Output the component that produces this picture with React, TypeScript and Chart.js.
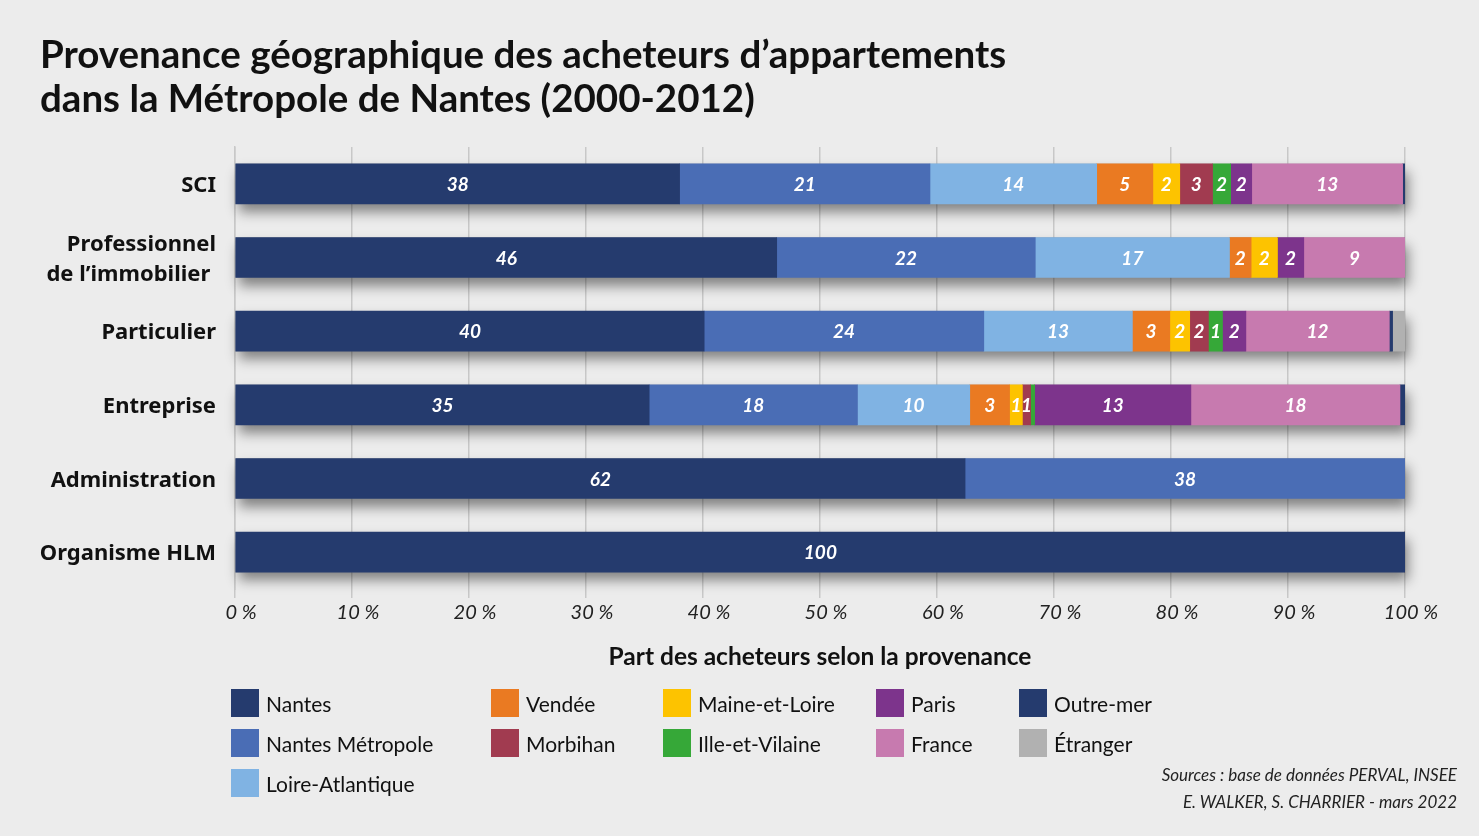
import React, { useEffect, useRef } from "react";
import { Chart, registerables } from "chart.js";

Chart.register(...registerables);

// ---- Data ----
const categories: (string | string[])[] = [
  "SCI",
  ["Professionnel", "de l’immobilier "],
  "Particulier",
  "Entreprise",
  "Administration",
  "Organisme HLM",
];

const seriesNames = [
  "Nantes",
  "Nantes Métropole",
  "Loire-Atlantique",
  "Vendée",
  "Maine-et-Loire",
  "Morbihan",
  "Ille-et-Vilaine",
  "Paris",
  "France",
  "Outre-mer",
  "Étranger",
];

const nantes = [38.0, 46.3, 40.1, 35.4, 62.4, 100];
const nantesMetropole = [21.4, 22.1, 23.9, 17.8, 37.6, 0];
const loireAtlantique = [14.25, 16.6, 12.7, 9.6, 0, 0];
const vendee = [4.8, 1.85, 3.2, 3.4, 0, 0];
const maineEtLoire = [2.3, 2.25, 1.7, 1.1, 0, 0];
const morbihan = [2.8, 0, 1.6, 0.7, 0, 0];
const illeEtVilaine = [1.55, 0, 1.2, 0.35, 0, 0];
const paris = [1.8, 2.25, 2.0, 13.35, 0, 0];
const france = [12.9, 8.65, 12.26, 17.87, 0, 0];
const outreMer = [0.17, 0, 0.28, 0.43, 0, 0];
const etranger = [0, 0, 1.06, 0, 0, 0];

const seriesValues = [
  nantes,
  nantesMetropole,
  loireAtlantique,
  vendee,
  maineEtLoire,
  morbihan,
  illeEtVilaine,
  paris,
  france,
  outreMer,
  etranger,
];

const seriesColors = [
  "#253b6e",
  "#4a6db5",
  "#80b3e3",
  "#ea7a22",
  "#fdc300",
  "#a13b50",
  "#36a838",
  "#7d348c",
  "#c77aaf",
  "#253b6e",
  "#b1b1b1",
];

// Series whose segments carry no value label
const unlabeledSeries = ["Outre-mer", "Étranger"];

const xTickValues = [0, 10, 20, 30, 40, 50, 60, 70, 80, 90, 100];

// legend arrangement (column-major as in the reference)
const legendColumns: string[][] = [
  ["Nantes", "Nantes Métropole", "Loire-Atlantique"],
  ["Vendée", "Morbihan"],
  ["Maine-et-Loire", "Ille-et-Vilaine"],
  ["Paris", "France"],
  ["Outre-mer", "Étranger"],
];
const legendColumnX = [231, 491, 663, 876, 1019];
const legendRowY = [689, 729, 769];

const titleLines = [
  "Provenance géographique des acheteurs d’appartements",
  "dans la Métropole de Nantes (2000-2012)",
];
const axisTitle = "Part des acheteurs selon la provenance";
const sourceLines = [
  "Sources : base de données PERVAL, INSEE",
  "E. WALKER, S. CHARRIER - mars 2022",
];

const FONT = "Lato, 'Noto Sans', sans-serif";
const LABEL_FONT = "'Noto Sans', Lato, sans-serif";

const shadowPlugin = {
  id: "barShadow",
  beforeDatasetsDraw(chart: any) {
    const ctx = chart.ctx;
    const metas = chart.data.datasets.map((_: any, i: number) => chart.getDatasetMeta(i));
    const n = chart.data.labels.length;
    for (let i = 0; i < n; i++) {
      let left = Infinity;
      let right = -Infinity;
      let top = 0;
      let h = 0;
      metas.forEach((m: any) => {
        const el = m.data[i];
        if (!el) return;
        const p = el.getProps(["x", "y", "base", "height"], true);
        left = Math.min(left, p.base, p.x);
        right = Math.max(right, p.base, p.x);
        top = p.y - p.height / 2;
        h = p.height;
      });
      ctx.save();
      ctx.shadowColor = "rgba(0,0,0,0.45)";
      ctx.shadowBlur = 12;
      ctx.shadowOffsetX = 3;
      ctx.shadowOffsetY = 8;
      ctx.fillStyle = "#888";
      ctx.fillRect(left, top, right - left, h);
      ctx.restore();
    }
  },
};

const valueLabelPlugin = {
  id: "valueLabels",
  afterDatasetsDraw(chart: any) {
    const ctx = chart.ctx;
    ctx.save();
    ctx.font = `italic 700 19px ${FONT}`;
    ctx.fillStyle = "#ffffff";
    ctx.textAlign = "center";
    ctx.textBaseline = "middle";
    chart.data.datasets.forEach((ds: any, d: number) => {
      if (unlabeledSeries.includes(ds.label)) return;
      const meta = chart.getDatasetMeta(d);
      meta.data.forEach((el: any, i: number) => {
        const v = ds.data[i];
        const r = Math.round(v);
        if (r < 1) return;
        const c = el.getCenterPoint();
        ctx.fillText(String(r), c.x, c.y + 1);
      });
    });
    ctx.restore();
  },
};

function ChartCanvas() {
  const ref = useRef<HTMLCanvasElement | null>(null);
  useEffect(() => {
    if (!ref.current) return;
    const chart = new Chart(ref.current, {
      type: "bar",
      data: {
        labels: categories as any,
        datasets: seriesNames.map((name, i) => ({
          label: name,
          data: seriesValues[i],
          backgroundColor: seriesColors[i],
          borderWidth: 0,
          borderSkipped: false,
          barThickness: 40,
        })),
      },
      options: {
        indexAxis: "y",
        responsive: false,
        animation: false,
        layout: { padding: { left: 0, right: 74, top: 147, bottom: 207 } },
        plugins: {
          legend: { display: false },
          tooltip: { enabled: false },
          title: { display: false },
        },
        scales: {
          x: {
            stacked: true,
            min: 0,
            max: 100,
            afterBuildTicks: (scale: any) => {
              scale.ticks = xTickValues.map((v) => ({ value: v }));
            },
            afterFit: (scale: any) => {
              scale.height = 40;
            },
            ticks: {
              callback: (v: any) => `${v} %`,
              font: { family: FONT, size: 20, style: "italic", weight: 400 },
              color: "#222",
              padding: 3,
              labelOffset: 6,
              maxRotation: 0,
            },
            grid: {
              color: "#c8c8c8",
              lineWidth: 1.5,
              tickLength: 9,
              drawTicks: true,
            },
            border: { display: false },
          },
          y: {
            stacked: true,
            afterFit: (scale: any) => {
              scale.width = 235;
            },
            ticks: {
              font: { family: LABEL_FONT, size: 22, weight: 700, lineHeight: 1.36 },
              color: "#111",
              padding: 11,
              labelOffset: 2,
            },
            grid: { display: false },
            border: { display: true, color: "#c8c8c8", width: 1.5 },
          },
        },
      },
      plugins: [shadowPlugin, valueLabelPlugin],
    } as any);
    return () => chart.destroy();
  }, []);
  return (
    <canvas
      ref={ref}
      width={1479}
      height={836}
      style={{ position: "absolute", left: 0, top: 0, width: 1479, height: 836 }}
    />
  );
}

export default function App() {
  return (
    <div
      style={{
        position: "absolute",
        left: 0,
        top: 0,
        width: 1479,
        height: 836,
        background: "#ececec",
        overflow: "hidden",
        fontFamily: FONT,
        color: "#111",
      }}
    >
      <ChartCanvas />
      <div
        style={{
          position: "absolute",
          left: 40,
          top: 31,
          fontSize: 38.5,
          fontWeight: 700,
          lineHeight: "44px",
          color: "#111",
          whiteSpace: "nowrap",
        }}
      >
        {titleLines.map((l, i) => (
          <div key={i}>{l}</div>
        ))}
      </div>
      <div
        style={{
          position: "absolute",
          left: 235,
          width: 1170,
          top: 641,
          textAlign: "center",
          fontSize: 24.5,
          fontWeight: 700,
          lineHeight: "30px",
          color: "#111",
        }}
      >
        {axisTitle}
      </div>
      {legendColumns.map((col, ci) =>
        col.map((name, ri) => {
          const idx = seriesNames.indexOf(name);
          return (
            <div
              key={name}
              style={{
                position: "absolute",
                left: legendColumnX[ci],
                top: legendRowY[ri],
                height: 28,
                display: "flex",
                alignItems: "center",
                whiteSpace: "nowrap",
              }}
            >
              <div
                style={{
                  width: 28,
                  height: 28,
                  background: seriesColors[idx],
                  marginRight: 7,
                  boxSizing: "border-box",
                }}
              />
              <span style={{ fontSize: 21, color: "#111" }}>{name}</span>
            </div>
          );
        })
      )}
      <div
        style={{
          position: "absolute",
          right: 22,
          top: 761,
          textAlign: "right",
          fontSize: 17,
          fontStyle: "italic",
          lineHeight: "27px",
          color: "#222",
          whiteSpace: "nowrap",
        }}
      >
        {sourceLines.map((l, i) => (
          <div key={i}>{l}</div>
        ))}
      </div>
    </div>
  );
}
